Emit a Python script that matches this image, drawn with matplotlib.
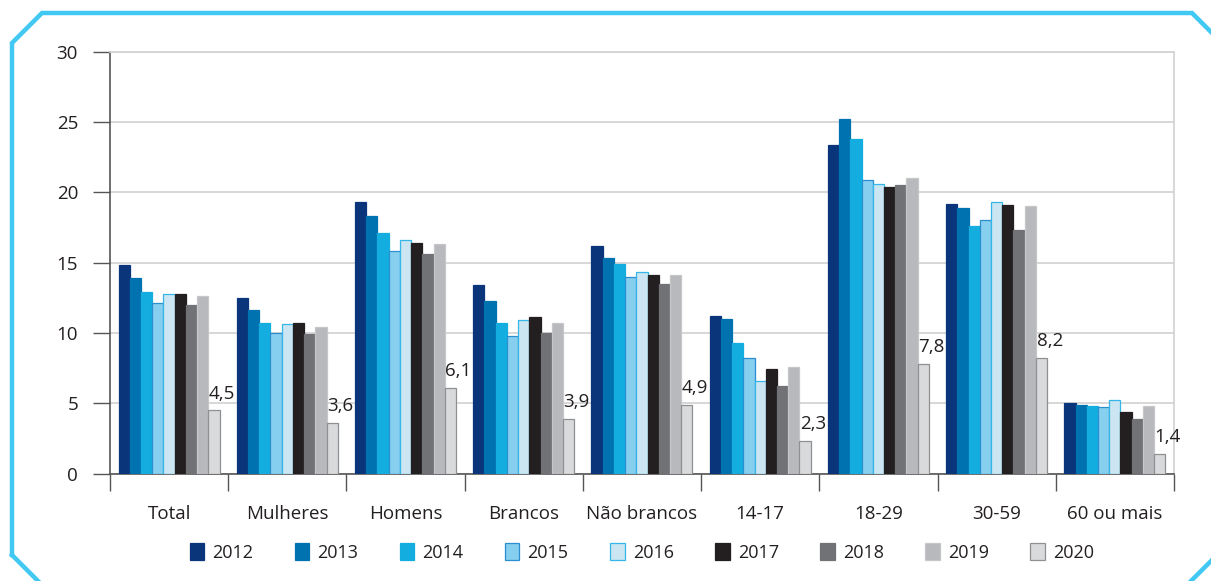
import matplotlib
matplotlib.use("Agg")
import matplotlib.pyplot as plt
from matplotlib.lines import Line2D
import numpy as np

plt.rcParams["font.family"] = ["Open Sans", "DejaVu Sans"]

categories = ["Total", "Mulheres", "Homens", "Brancos", "Não brancos",
              "14-17", "18-29", "30-59", "60 ou mais"]
years = ["2012", "2013", "2014", "2015", "2016", "2017", "2018", "2019", "2020"]

v2012 = [14.8, 12.5, 19.3, 13.4, 16.2, 11.2, 23.4, 19.2, 5.0]
v2013 = [13.9, 11.6, 18.3, 12.3, 15.3, 11.0, 25.2, 18.9, 4.9]
v2014 = [12.9, 10.7, 17.1, 10.7, 14.9, 9.3, 23.8, 17.6, 4.8]
v2015 = [12.1, 10.0, 15.8, 9.8, 14.0, 8.2, 20.9, 18.0, 4.7]
v2016 = [12.8, 10.6, 16.6, 10.9, 14.3, 6.6, 20.6, 19.3, 5.2]
v2017 = [12.8, 10.7, 16.4, 11.1, 14.1, 7.4, 20.4, 19.1, 4.4]
v2018 = [12.0, 9.9, 15.6, 10.0, 13.5, 6.2, 20.5, 17.3, 3.9]
v2019 = [12.6, 10.4, 16.3, 10.7, 14.1, 7.6, 21.0, 19.0, 4.8]
v2020 = [4.5, 3.6, 6.1, 3.9, 4.9, 2.3, 7.8, 8.2, 1.4]
series = [v2012, v2013, v2014, v2015, v2016, v2017, v2018, v2019, v2020]

colors = ["#0a357a", "#0072b0", "#13aedf", "#87cfee", "#cbe5f2",
          "#231f20", "#717275", "#b8b9bc", "#d9dadc"]
edges = ["#0a357a", "#0072b0", "#13aedf", "#2a8fd0", "#35b6e8",
         "#231f20", "#717275", "#c6c7c9", "#8f9093"]

fig = plt.figure(figsize=(12.11, 5.81), dpi=100)
ax = fig.add_axes([0.0908, 0.185, 0.8786, 0.726])

x = np.arange(len(categories))
w = 0.095
for j, (vals, c, ec) in enumerate(zip(series, colors, edges)):
    ax.bar(x + (j - 4) * w, vals, w, color=c, edgecolor=ec, linewidth=0.9,
           label=years[j], zorder=3)

# value labels on 2020 bars
for i, v in enumerate(v2020):
    ax.text(x[i] + 4 * w - w / 2 + 0.005, v + 0.55, f"{v:.1f}".replace(".", ","),
            ha="left", va="bottom", fontsize=13.5, color="#231f20", zorder=4)

ax.set_xlim(-0.5, len(categories) - 0.5)
ax.set_ylim(0, 30)
ax.set_yticks(range(0, 31, 5))
ax.yaxis.grid(True, color="#d4d4d4", linewidth=1.3, zorder=0)
ax.set_axisbelow(True)

# boundary ticks, labels centred in each category
ax.set_xticks(np.arange(-0.5, len(categories)))
ax.set_xticklabels([])
ax.set_xticks(x, minor=True)
ax.set_xticklabels(categories, minor=True, fontsize=13.5, color="#231f20")
ax.tick_params(axis="x", which="major", length=12, width=1, color="#555555",
               direction="out")
ax.tick_params(axis="x", which="minor", length=0, pad=23)
ax.tick_params(axis="y", length=12, width=1, color="#555555", pad=11,
               labelsize=13.5, labelcolor="#231f20")

for s in ["left", "bottom"]:
    ax.spines[s].set_color("#555555")
    ax.spines[s].set_linewidth(1.2)
ax.spines["right"].set_color("#d4d4d4")
ax.spines["right"].set_linewidth(1.3)
ax.spines["top"].set_color("#d4d4d4")
ax.spines["top"].set_linewidth(1.3)

leg = fig.legend(loc="center", bbox_to_anchor=(0.53, 0.049), ncol=9,
                 frameon=False, fontsize=13, handlelength=0.8,
                 handleheight=1.1, handletextpad=0.45, columnspacing=2.3)
for t in leg.get_texts():
    t.set_color("#231f20")

# cyan frame with cut corners (pixel coordinates, origin top-left)
W, H = 1211, 581
frame = [(12, 555), (12, 43), (42, 13), (1192, 13), (1216, 37)]
fig.add_artist(Line2D([p[0] / W for p in frame], [1 - p[1] / H for p in frame],
                      transform=fig.transFigure, color="#41c8f3", linewidth=3.2,
                      solid_joinstyle="miter"))
fig.add_artist(Line2D([12 / W, 42 / W], [1 - 555 / H, 1 - 585 / H],
                      transform=fig.transFigure, color="#41c8f3", linewidth=3.2))
fig.add_artist(Line2D([1186 / W, 1216 / W], [1 - 586 / H, 1 - 556 / H],
                      transform=fig.transFigure, color="#41c8f3", linewidth=3.2))

fig.savefig("out.png", dpi=100)
